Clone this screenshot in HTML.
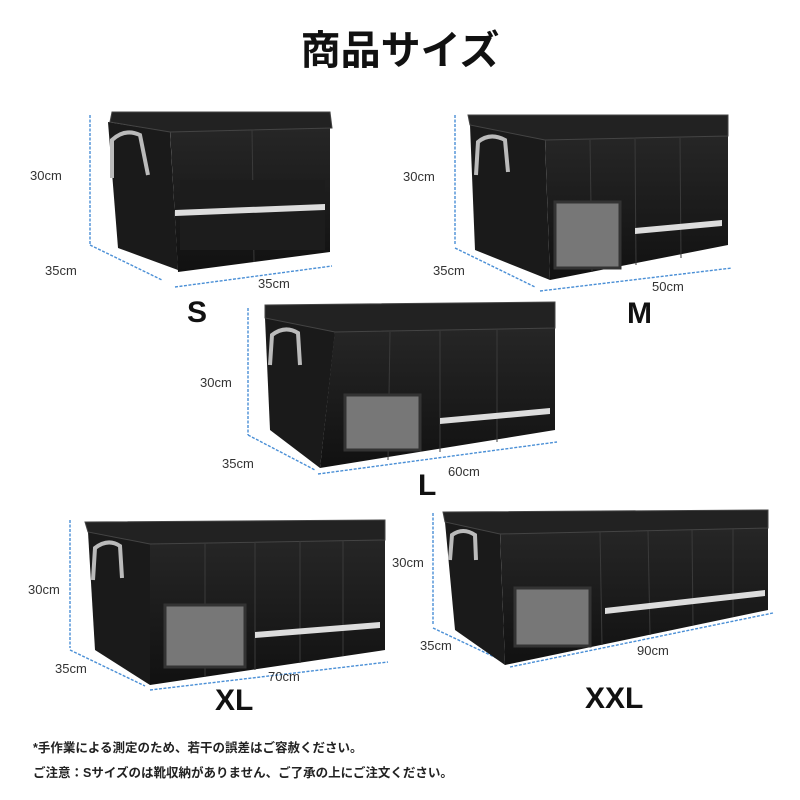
<!DOCTYPE html>
<html><head><meta charset="utf-8"><style>
body{margin:0;background:#fff;width:800px;height:800px;overflow:hidden}
svg{display:block}
text{font-family:"Liberation Sans","Noto Sans CJK JP",sans-serif}
</style></head><body>
<svg width="800" height="800" viewBox="0 0 800 800">
<defs>
<linearGradient id="f" x1="0" y1="0" x2="0" y2="1"><stop offset="0" stop-color="#262626"/><stop offset="1" stop-color="#111"/></linearGradient>
</defs>
<text x="400" y="64" text-anchor="middle" font-size="40" font-weight="bold" fill="#111">商品サイズ</text>

<g stroke="#4a8fd6" stroke-width="1.4" stroke-dasharray="3,1.5" fill="none">
<line x1="90" y1="115" x2="90" y2="245"/><line x1="90" y1="245" x2="162" y2="280"/><line x1="175" y1="287" x2="332" y2="266"/>
<line x1="455" y1="115" x2="455" y2="245"/><line x1="455" y1="248" x2="535" y2="287"/><line x1="540" y1="291" x2="732" y2="268"/>
<line x1="248" y1="308" x2="248" y2="435"/><line x1="248" y1="435" x2="315" y2="470"/><line x1="318" y1="474" x2="557" y2="442"/>
<line x1="70" y1="520" x2="70" y2="648"/><line x1="70" y1="650" x2="145" y2="686"/><line x1="150" y1="690" x2="388" y2="662"/>
<line x1="433" y1="513" x2="433" y2="625"/><line x1="433" y1="628" x2="505" y2="662"/><line x1="510" y1="667" x2="773" y2="613"/>
</g>

<g font-size="13" fill="#333">
<text x="30" y="180">30cm</text><text x="45" y="275">35cm</text><text x="258" y="288">35cm</text>
<text x="403" y="181">30cm</text><text x="433" y="275">35cm</text><text x="652" y="291">50cm</text>
<text x="200" y="387">30cm</text><text x="222" y="468">35cm</text><text x="448" y="476">60cm</text>
<text x="28" y="594">30cm</text><text x="55" y="673">35cm</text><text x="268" y="681">70cm</text>
<text x="392" y="567">30cm</text><text x="420" y="650">35cm</text><text x="637" y="655">90cm</text>
</g>
<g font-size="30" font-weight="bold" fill="#111">
<text x="187" y="322">S</text><text x="627" y="323">M</text><text x="418" y="495">L</text>
<text x="215" y="710">XL</text><text x="585" y="708">XXL</text>
</g>

<!-- S box -->
<g>
<polygon points="108,122 170,132 178,270 118,248" fill="#1a1a1a"/>
<polygon points="170,130 330,128 330,252 178,272" fill="url(#f)"/>
<polygon points="112,112 330,112 332,128 170,132 110,122" fill="#222" stroke="#444"/>
<line x1="252" y1="130" x2="254" y2="262" stroke="#3a3a3a"/>
<rect x="180" y="180" width="145" height="70" fill="#1c1c1c"/>
<polygon points="175,210 325,204 325,210 175,216" fill="#ddd"/>
<path d="M112,178 L112,140 Q125,128 140,135 L148,175" stroke="#bbb" stroke-width="4" fill="none"/>
</g>
<!-- M box -->
<g>
<polygon points="470,125 545,140 550,280 475,250" fill="#1a1a1a"/>
<polygon points="545,138 728,136 728,245 550,280" fill="url(#f)"/>
<polygon points="468,115 728,115 728,136 545,140 470,125" fill="#222" stroke="#444"/>
<line x1="590" y1="140" x2="592" y2="272" stroke="#3a3a3a"/><line x1="635" y1="139" x2="636" y2="265" stroke="#3a3a3a"/><line x1="680" y1="138" x2="681" y2="258" stroke="#3a3a3a"/>
<rect x="555" y="202" width="65" height="66" fill="#777" stroke="#333" stroke-width="3"/>
<polygon points="635,228 722,220 722,226 635,234" fill="#ddd"/>
<path d="M476,175 L478,142 Q490,132 505,140 L508,172" stroke="#bbb" stroke-width="4" fill="none"/>
</g>
<!-- L box -->
<g>
<polygon points="265,318 335,332 320,468 270,430" fill="#1a1a1a"/>
<polygon points="335,330 555,328 555,430 320,468" fill="url(#f)"/>
<polygon points="265,305 555,302 555,328 335,332 265,318" fill="#222" stroke="#444"/>
<line x1="390" y1="332" x2="388" y2="460" stroke="#3a3a3a"/><line x1="440" y1="331" x2="440" y2="452" stroke="#3a3a3a"/><line x1="497" y1="330" x2="497" y2="442" stroke="#3a3a3a"/>
<rect x="345" y="395" width="75" height="55" fill="#777" stroke="#333" stroke-width="3"/>
<polygon points="440,418 550,408 550,414 440,424" fill="#ddd"/>
<path d="M270,365 L272,335 Q285,325 298,333 L300,365" stroke="#bbb" stroke-width="4" fill="none"/>
</g>
<!-- XL box -->
<g>
<polygon points="88,532 150,543 150,685 95,650" fill="#1a1a1a"/>
<polygon points="150,541 385,539 385,650 150,685" fill="url(#f)"/>
<polygon points="85,522 385,520 385,540 150,544 88,532" fill="#222" stroke="#444"/>
<line x1="205" y1="543" x2="205" y2="677" stroke="#3a3a3a"/><line x1="255" y1="542" x2="255" y2="670" stroke="#3a3a3a"/><line x1="300" y1="541" x2="300" y2="663" stroke="#3a3a3a"/><line x1="343" y1="540" x2="343" y2="656" stroke="#3a3a3a"/>
<rect x="165" y="605" width="80" height="62" fill="#777" stroke="#333" stroke-width="3"/>
<polygon points="255,632 380,622 380,628 255,638" fill="#ddd"/>
<path d="M93,580 L95,548 Q108,538 120,546 L122,578" stroke="#bbb" stroke-width="4" fill="none"/>
</g>
<!-- XXL box -->
<g>
<polygon points="445,522 500,534 505,665 455,630" fill="#1a1a1a"/>
<polygon points="500,532 768,528 768,610 505,665" fill="url(#f)"/>
<polygon points="443,512 768,510 768,528 500,534 445,522" fill="#222" stroke="#444"/>
<line x1="600" y1="532" x2="602" y2="645" stroke="#3a3a3a"/><line x1="648" y1="531" x2="650" y2="635" stroke="#3a3a3a"/><line x1="692" y1="530" x2="693" y2="625" stroke="#3a3a3a"/><line x1="733" y1="529" x2="733" y2="617" stroke="#3a3a3a"/>
<rect x="515" y="588" width="75" height="58" fill="#777" stroke="#333" stroke-width="3"/>
<polygon points="605,608 765,590 765,596 605,614" fill="#ddd"/>
<path d="M450,560 L452,535 Q463,527 475,535 L476,560" stroke="#bbb" stroke-width="4" fill="none"/>
</g>

<text x="33" y="752" font-size="12.5" font-weight="bold" fill="#222">*手作業による測定のため、若干の誤差はご容赦ください。</text>
<text x="33" y="777" font-size="12.5" font-weight="bold" fill="#222">ご注意：Sサイズのは靴収納がありません、ご了承の上にご注文ください。</text>
</svg>
</body></html>
